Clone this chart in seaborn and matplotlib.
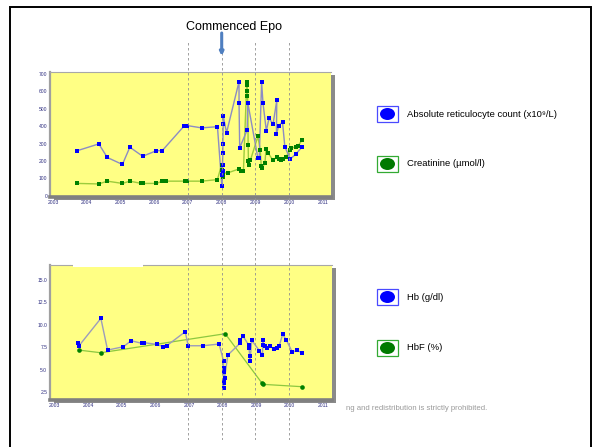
import numpy as np
import pandas as pd
import matplotlib
matplotlib.use("Agg")
import matplotlib.pyplot as plt
from matplotlib.patches import Rectangle, Ellipse
import seaborn as sns

# ---- data ----
retic_year = [2003.72, 2004.36, 2004.61, 2005.06, 2005.28, 2005.66, 2006.07, 2006.24,
              2006.90, 2006.99, 2007.41, 2007.88,
              2008.01, 2008.02, 2008.03, 2008.03, 2008.04, 2008.04, 2008.05, 2008.05, 2008.15,
              2008.52, 2008.52, 2008.54, 2008.76, 2008.78, 2009.08, 2009.12,
              2009.19, 2009.23, 2009.33, 2009.41, 2009.53, 2009.64, 2009.63, 2009.70,
              2009.81, 2009.88, 2010.04, 2010.21, 2010.39]
retic_val = [259, 298, 220, 180, 279, 227, 259, 259,
             403, 403, 390, 397,
             56, 122, 141, 178, 244, 300, 413, 459, 362,
             656, 535, 276, 377, 535, 216, 216,
             653, 535, 373, 445, 412, 548, 355, 403,
             424, 281, 211, 240, 281]

creat_year = [2003.72, 2004.36, 2004.61, 2005.06, 2005.28, 2005.62, 2005.66, 2006.07,
              2006.24, 2006.34, 2006.93, 2006.99, 2007.41, 2007.88,
              2008.00, 2008.02, 2008.03, 2008.04, 2008.18, 2008.53, 2008.57, 2008.65,
              2008.75, 2008.76, 2008.77, 2008.77, 2008.78, 2008.79, 2008.80, 2008.81, 2008.86,
              2009.08, 2009.15, 2009.18, 2009.21, 2009.29, 2009.32, 2009.39, 2009.52,
              2009.64, 2009.70, 2009.76, 2009.83, 2009.90, 2010.04, 2010.07, 2010.20,
              2010.27, 2010.39]
creat_val = [71, 68, 84, 71, 84, 71, 71, 71,
             84, 84, 84, 84, 84, 93,
             178, 150, 107, 131, 131, 155, 145, 140,
             656, 638, 600, 576, 535, 290, 197, 178, 206,
             341, 262, 169, 160, 191, 266, 244, 206,
             220, 210, 206, 214, 220, 262, 274, 281,
             287, 319]

hb_year = [2003.69, 2003.73, 2004.38, 2004.58, 2005.05, 2005.28, 2005.60, 2005.66,
           2006.04, 2006.24, 2006.34, 2006.89, 2006.98, 2007.41, 2007.90,
           2008.03, 2008.03, 2008.04, 2008.04, 2008.05, 2008.05, 2008.06, 2008.16,
           2008.52, 2008.53, 2008.61, 2008.78, 2008.79, 2008.81, 2008.82, 2008.87,
           2009.10, 2009.19, 2009.20, 2009.21, 2009.26, 2009.33, 2009.41, 2009.53,
           2009.63, 2009.69, 2009.79, 2009.90, 2010.08, 2010.21, 2010.37]
hb_val = [8.02, 7.68, 10.73, 7.20, 7.57, 8.24, 7.95, 8.02,
          7.84, 7.57, 7.68, 9.24, 7.68, 7.68, 7.87,
          5.98, 3.00, 5.17, 3.75, 4.72, 3.49, 4.05, 6.65,
          7.95, 8.30, 8.76, 7.76, 7.40, 6.50, 6.00, 8.28,
          7.13, 6.65, 8.28, 7.76, 7.68, 7.39, 7.65, 7.32,
          7.46, 7.68, 8.95, 8.32, 6.95, 7.17, 6.90]

hbf_year = [2003.72, 2004.38, 2008.08, 2009.18, 2009.22, 2010.37]
hbf_val = [7.2, 6.9, 9.02, 3.49, 3.38, 3.12]

epo_years = [2007, 2008, 2009, 2010]
year_ticks = list(range(2003, 2012))
top_yticks = [0, 100, 200, 300, 400, 500, 600, 700]
bot_yticks = [2.5, 5.0, 7.5, 10.0, 12.5, 15.0]

top_labels = ["Absolute reticulocyte count (x10\u2079/L)", "Creatinine (\u00b5mol/l)"]
bot_labels = ["Hb (g/dl)", "HbF (%)"]

# ---- layout helpers (pixel based) ----
W, H = 602, 447
sns.set_style("white")
plt.rcParams["font.family"] = ["Liberation Sans", "DejaVu Sans"]

fig = plt.figure(figsize=(W / 100, H / 100), dpi=100)
fig.patch.set_facecolor("white")


def rect(l, t, r, b):
    return [l / W, 1 - b / H, (r - l) / W, (b - t) / H]


def fp(x, y):
    return (x / W, 1 - y / H)


YELLOW = "#ffff84"
TICKC = "#2e2e80"
BLUE = "#0000ff"
GREEN = "#008000"


def style_axes(ax, xlim, ylim, yticks, fmt):
    ax.set_facecolor(YELLOW)
    ax.set_xlim(*xlim)
    ax.set_ylim(*ylim)
    ax.set_xticks(year_ticks)
    ax.set_xticklabels([str(y) for y in year_ticks])
    ax.set_yticks(yticks)
    ax.set_yticklabels([fmt.format(v) for v in yticks])
    ax.set_xlabel("")
    ax.set_ylabel("")
    ax.tick_params(axis="both", which="major", direction="in", length=2.5, width=0.6,
                   color="#555555", labelsize=3.6, labelcolor=TICKC, pad=2)
    ax.tick_params(axis="both", which="minor", direction="in", length=1.3, width=0.5,
                   color="#555555")
    ax.spines["bottom"].set_color("#808080")
    ax.spines["bottom"].set_linewidth(2.6)
    ax.spines["left"].set_color("#a0a0a0")
    ax.spines["left"].set_linewidth(1.6)
    ax.spines["top"].set_color("#a8a8a8")
    ax.spines["top"].set_linewidth(0.8)
    ax.spines["right"].set_visible(False)
    for s in ax.spines.values():
        s.set_zorder(1)


# shadows behind the plot areas
for (l, t, r, b) in [(54, 75, 335, 200), (54, 268, 336, 403)]:
    fig.patches.append(Rectangle(fp(l, b), (r - l) / W, (b - t) / H, transform=fig.transFigure,
                                 facecolor="#8a8a8a", edgecolor="none", zorder=-1))

# ---- top panel ----
ax1 = fig.add_axes(rect(50, 72, 331, 197))
sns.lineplot(x=creat_year, y=creat_val, sort=False, estimator=None, color="#9ccc3c",
             linewidth=1.0, ax=ax1, zorder=2)
sns.lineplot(x=retic_year, y=retic_val, sort=False, estimator=None, color="#8c8cc4",
             linewidth=1.0, ax=ax1, zorder=3)
sns.scatterplot(x=creat_year, y=creat_val, marker="s", s=12, color=GREEN, linewidth=0,
                ax=ax1, zorder=4)
sns.scatterplot(x=retic_year, y=retic_val, marker="s", s=12, color=BLUE, linewidth=0,
                ax=ax1, zorder=5)
style_axes(ax1, (2002.911, 2011.249), (-7, 711), top_yticks, "{:d}")
ax1.set_xticks(np.arange(2003, 2011.01, 0.25), minor=True)
ax1.set_yticks(np.arange(0, 711, 20), minor=True)

# ---- bottom panel ----
ax2 = fig.add_axes(rect(50, 265, 331.7, 400))
sns.lineplot(x=hbf_year, y=hbf_val, sort=False, estimator=None, color="#8cc840",
             linewidth=0.9, ax=ax2, zorder=2)
sns.lineplot(x=hb_year, y=hb_val, sort=False, estimator=None, color="#9c9cbc",
             linewidth=1.0, ax=ax2, zorder=3)
sns.scatterplot(x=hbf_year, y=hbf_val, marker="o", s=11, color=GREEN, linewidth=0,
                ax=ax2, zorder=4)
sns.scatterplot(x=hb_year, y=hb_val, marker="s", s=12, color=BLUE, linewidth=0,
                ax=ax2, zorder=5)
style_axes(ax2, (2002.866, 2011.25), (1.64, 16.67), bot_yticks, "{:.1f}")
ax2.set_xticks(np.arange(2003, 2011.01, 0.25), minor=True)
ax2.set_yticks(np.arange(2.0, 16.6, 0.5), minor=True)
# white gap in the top border of the lower panel
ax2.add_patch(Rectangle((0.08, 0.985), 0.25, 0.03, transform=ax2.transAxes,
                        facecolor="white", edgecolor="none", clip_on=False, zorder=6))

# ---- dashed reference lines across both panels ----
ax3 = fig.add_axes(rect(50, 40, 331, 440))
ax3.set_xlim(2002.911, 2011.249)
ax3.set_ylim(0, 1)
ax3.axis("off")
for yr in epo_years:
    ax3.axvline(yr, color="#909090", linewidth=0.6, linestyle=(0, (3, 3)))

# ---- annotation ----
fig.text(*fp(234, 27), "Commenced Epo", ha="center", va="center", fontsize=9, color="black")
ax3.annotate("", xy=fp(221.7, 56), xytext=fp(221.7, 33), xycoords="figure fraction",
             textcoords="figure fraction",
             arrowprops=dict(arrowstyle="-|>", color="#4f7fc0", lw=2.2, mutation_scale=5,
                             shrinkA=0, shrinkB=0))

# ---- legends ----
def legend_item(cy, label, edge, fill):
    fig.patches.append(Rectangle(fp(377, cy + 8), 21 / W, 16 / H, transform=fig.transFigure,
                                 facecolor="white", edgecolor=edge, linewidth=0.9))
    fig.patches.append(Ellipse(fp(387.5, cy), 15 / W, 12 / H, transform=fig.transFigure,
                               facecolor=fill, edgecolor="none"))
    fig.text(*fp(407, cy), label, ha="left", va="center", fontsize=6.8, color="black")


legend_item(114, top_labels[0], "#4a4aff", BLUE)
legend_item(164, top_labels[1], "#33aa33", "#007a00")
legend_item(297, bot_labels[0], "#4a4aff", BLUE)
legend_item(348, bot_labels[1], "#33aa33", "#007a00")

fig.text(*fp(346, 409), "ng and redistribution is strictly prohibited.", ha="left",
         va="center", fontsize=5.6, color="#9a9a9a")

# outer frame
fig.patches.append(Rectangle(fp(10, 452), 581 / W, 445 / H, transform=fig.transFigure,
                             facecolor="none", edgecolor="black", linewidth=1.4))

fig.savefig("out.png", dpi=100)
